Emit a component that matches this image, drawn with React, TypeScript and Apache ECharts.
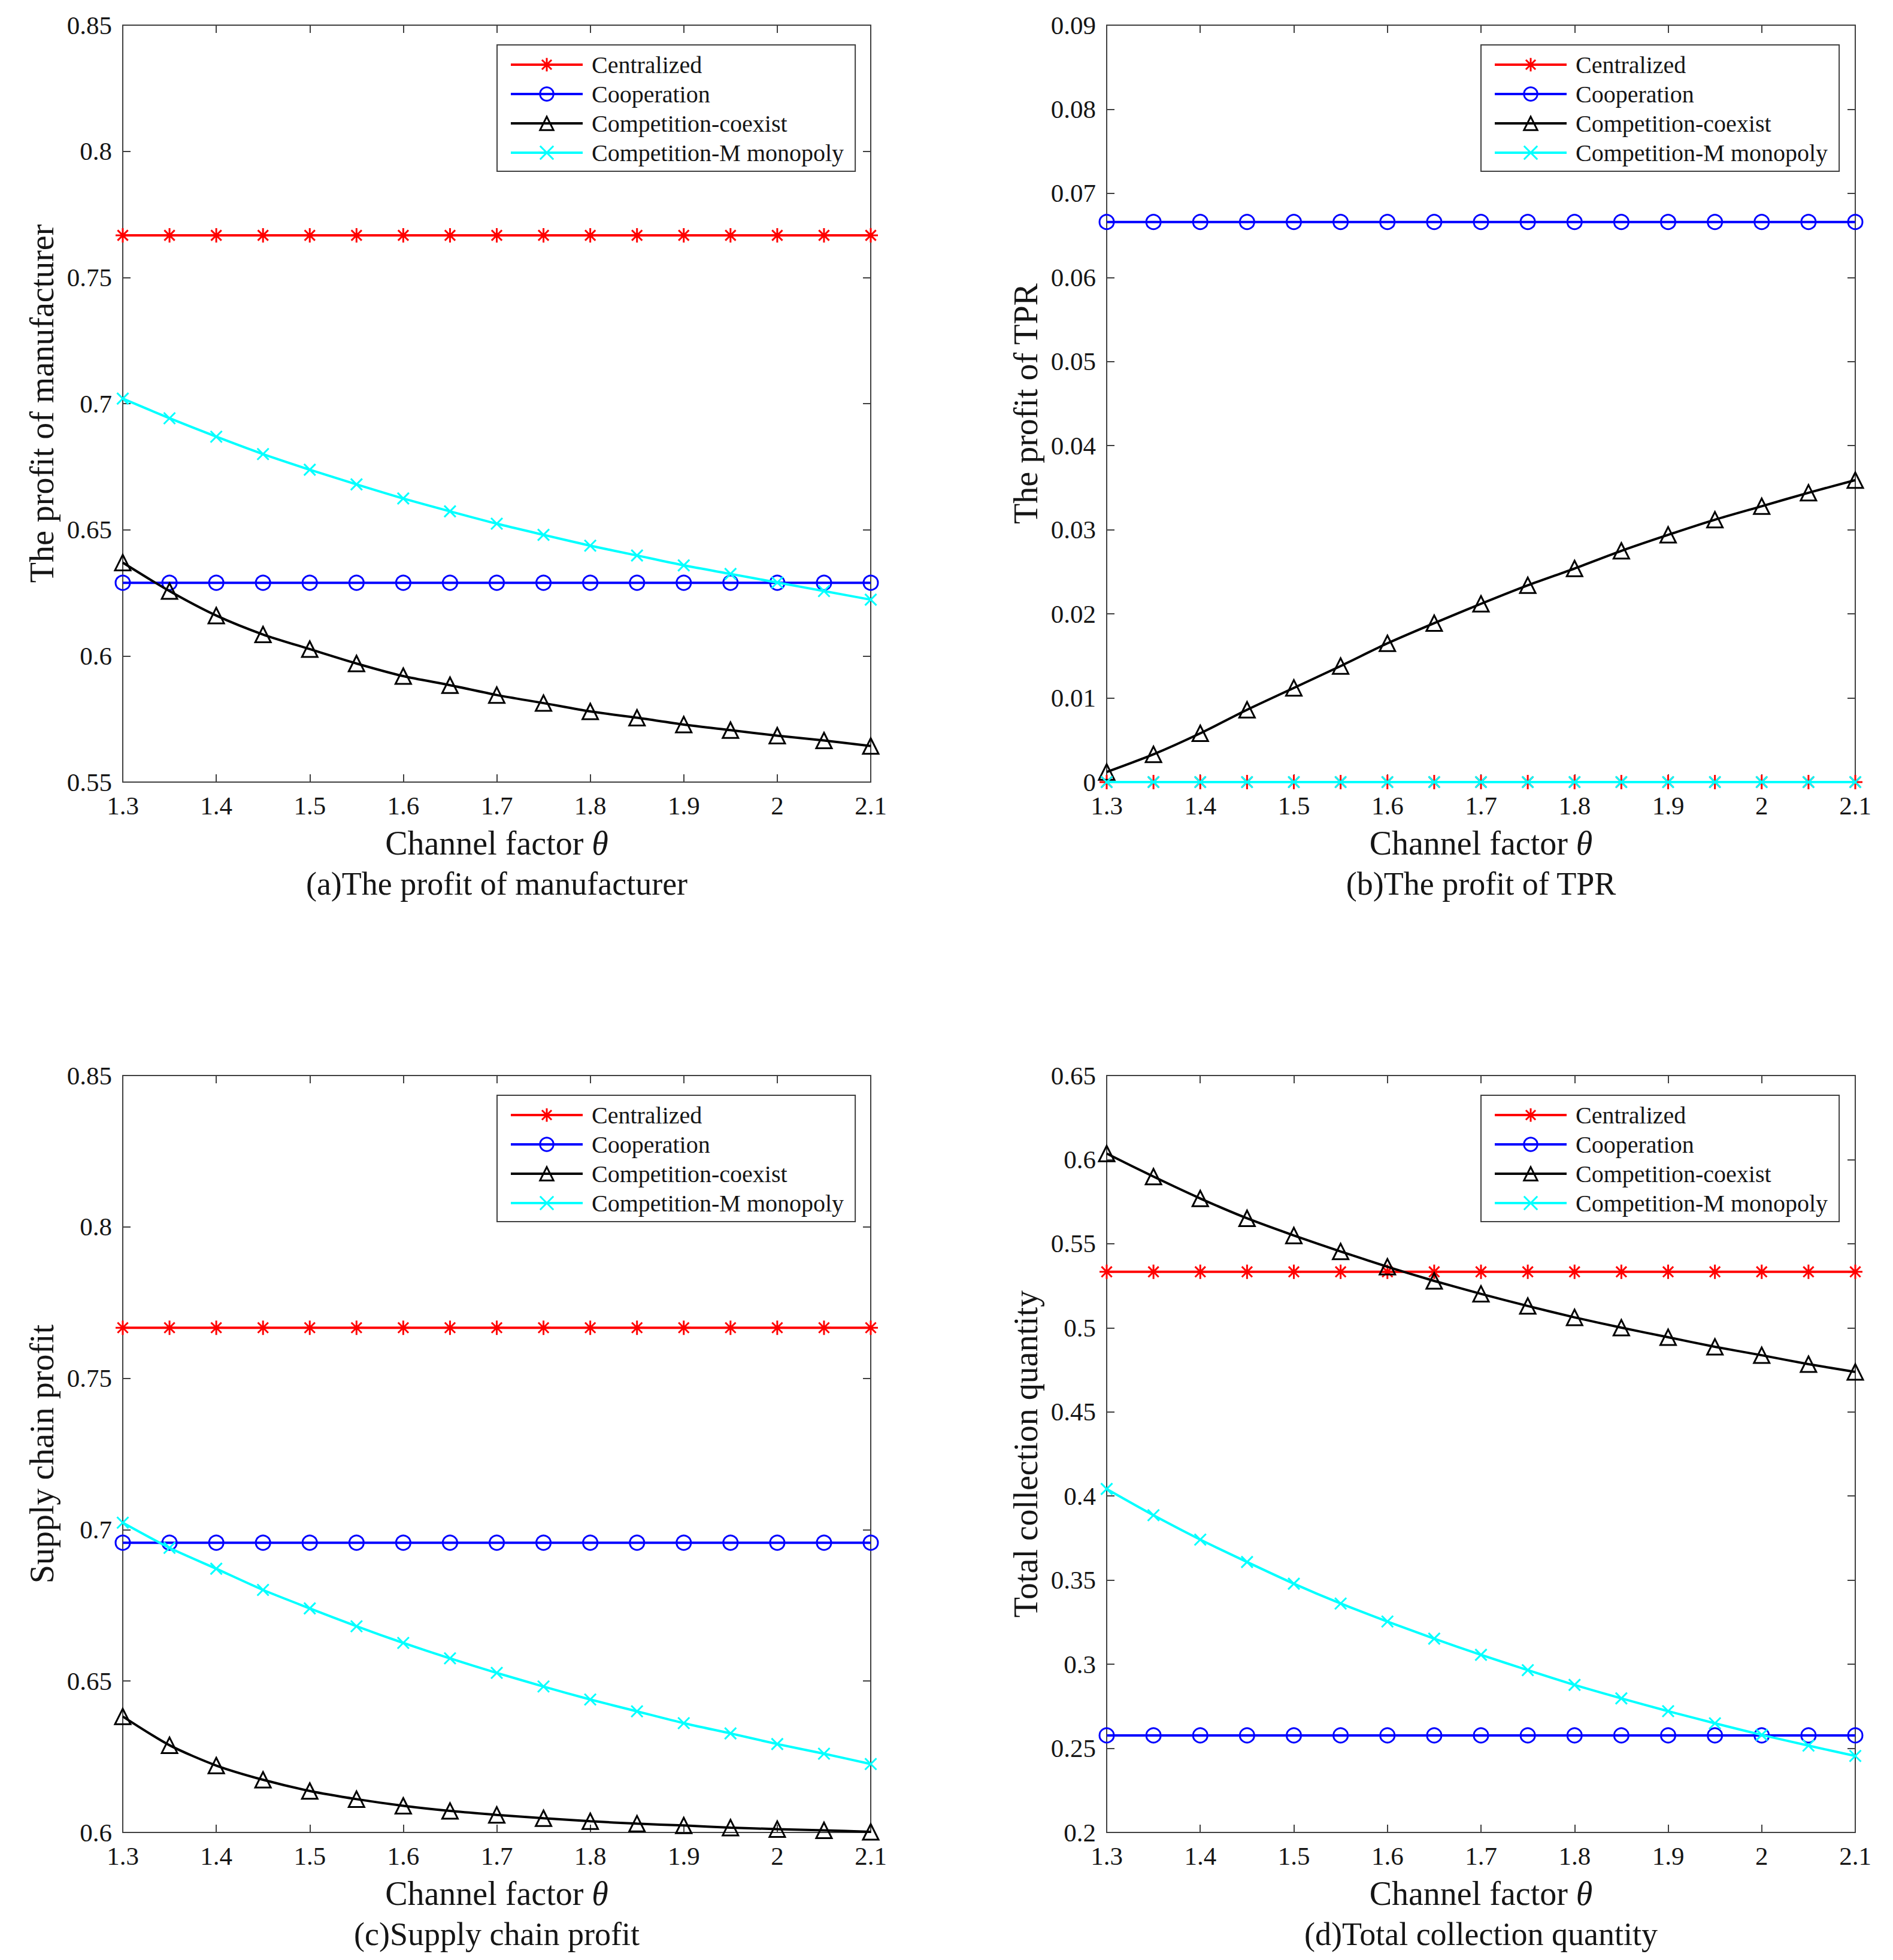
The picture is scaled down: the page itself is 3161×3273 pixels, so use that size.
import React, { useEffect, useRef } from "react";
import * as echarts from "echarts";

// ---------------- data ----------------
const THETA = [1.3, 1.35, 1.4, 1.45, 1.5, 1.55, 1.6, 1.65, 1.7, 1.75, 1.8, 1.85, 1.9, 1.95, 2.0, 2.05, 2.1];
const SERIES_NAMES = ["Centralized", "Cooperation", "Competition-coexist", "Competition-M monopoly"];

// (a) The profit of manufacturer
const A_CENTRALIZED = [0.7667, 0.7667, 0.7667, 0.7667, 0.7667, 0.7667, 0.7667, 0.7667, 0.7667, 0.7667, 0.7667, 0.7667, 0.7667, 0.7667, 0.7667, 0.7667, 0.7667];
const A_COOPERATION = [0.629, 0.629, 0.629, 0.629, 0.629, 0.629, 0.629, 0.629, 0.629, 0.629, 0.629, 0.629, 0.629, 0.629, 0.629, 0.629, 0.629];
const A_COEXIST = [0.637, 0.6257, 0.616, 0.6085, 0.6027, 0.597, 0.592, 0.5884, 0.5845, 0.5813, 0.578, 0.5755, 0.5728, 0.5706, 0.5684, 0.5665, 0.5643];
const A_MONOPOLY = [0.702, 0.6942, 0.6869, 0.68, 0.6738, 0.668, 0.6624, 0.6573, 0.6524, 0.648, 0.6437, 0.6398, 0.6359, 0.6325, 0.6291, 0.6257, 0.6223];

// (b) The profit of TPR
const B_CENTRALIZED = [0, 0, 0, 0, 0, 0, 0, 0, 0, 0, 0, 0, 0, 0, 0, 0, 0];
const B_COOPERATION = [0.0666, 0.0666, 0.0666, 0.0666, 0.0666, 0.0666, 0.0666, 0.0666, 0.0666, 0.0666, 0.0666, 0.0666, 0.0666, 0.0666, 0.0666, 0.0666, 0.0666];
const B_COEXIST = [0.0012, 0.0033, 0.0058, 0.0086, 0.0112, 0.0138, 0.0165, 0.0189, 0.0212, 0.0234, 0.0254, 0.0275, 0.0294, 0.0312, 0.0328, 0.0344, 0.0359];
const B_MONOPOLY = [0, 0, 0, 0, 0, 0, 0, 0, 0, 0, 0, 0, 0, 0, 0, 0, 0];

// (c) Supply chain profit
const C_CENTRALIZED = [0.7667, 0.7667, 0.7667, 0.7667, 0.7667, 0.7667, 0.7667, 0.7667, 0.7667, 0.7667, 0.7667, 0.7667, 0.7667, 0.7667, 0.7667, 0.7667, 0.7667];
const C_COOPERATION = [0.6957, 0.6957, 0.6957, 0.6957, 0.6957, 0.6957, 0.6957, 0.6957, 0.6957, 0.6957, 0.6957, 0.6957, 0.6957, 0.6957, 0.6957, 0.6957, 0.6957];
const C_COEXIST = [0.6383, 0.6288, 0.6221, 0.6174, 0.6137, 0.611, 0.6088, 0.6071, 0.6058, 0.6047, 0.6037, 0.6029, 0.6023, 0.6016, 0.6011, 0.6007, 0.6002];
const C_MONOPOLY = [0.7023, 0.694, 0.6871, 0.6801, 0.674, 0.6681, 0.6626, 0.6575, 0.6527, 0.6482, 0.6439, 0.64, 0.6361, 0.6327, 0.6292, 0.626, 0.6226];

// (d) Total collection quantity
const D_CENTRALIZED = [0.5333, 0.5333, 0.5333, 0.5333, 0.5333, 0.5333, 0.5333, 0.5333, 0.5333, 0.5333, 0.5333, 0.5333, 0.5333, 0.5333, 0.5333, 0.5333, 0.5333];
const D_COOPERATION = [0.2577, 0.2577, 0.2577, 0.2577, 0.2577, 0.2577, 0.2577, 0.2577, 0.2577, 0.2577, 0.2577, 0.2577, 0.2577, 0.2577, 0.2577, 0.2577, 0.2577];
const D_COEXIST = [0.6036, 0.5899, 0.5769, 0.5651, 0.5549, 0.5454, 0.5363, 0.5279, 0.5202, 0.513, 0.5062, 0.5001, 0.4944, 0.4887, 0.4837, 0.4784, 0.4738];
const D_MONOPOLY = [0.4042, 0.3886, 0.3741, 0.3608, 0.3479, 0.3361, 0.3254, 0.3152, 0.3056, 0.2965, 0.2877, 0.2797, 0.2721, 0.2649, 0.258, 0.2516, 0.2455];

const X_NAME = "Channel factor {i|θ}";
const Y_NAMES = ["The profit of manufacturer", "The profit of TPR", "Supply chain profit", "Total collection quantity"];
const CAPTIONS = ["(a)The profit of manufacturer", "(b)The profit of TPR", "(c)Supply chain profit", "(d)Total collection quantity"];
const Y_RANGES = [
  { min: 0.55, max: 0.85, interval: 0.05 },
  { min: 0, max: 0.09, interval: 0.01 },
  { min: 0.6, max: 0.85, interval: 0.05 },
  { min: 0.2, max: 0.65, interval: 0.05 },
];
const PANEL_DATA = [
  [A_CENTRALIZED, A_COOPERATION, A_COEXIST, A_MONOPOLY],
  [B_CENTRALIZED, B_COOPERATION, B_COEXIST, B_MONOPOLY],
  [C_CENTRALIZED, C_COOPERATION, C_COEXIST, C_MONOPOLY],
  [D_CENTRALIZED, D_COOPERATION, D_COEXIST, D_MONOPOLY],
];

// ---------------- layout / styles ----------------
const W = 3161;
const H = 3273;
const FONT = '"Liberation Serif", "Times New Roman", serif';
const GRIDS = [
  { left: 205, top: 42, width: 1249, height: 1264 },
  { left: 1848, top: 42, width: 1250, height: 1264 },
  { left: 205, top: 1796, width: 1249, height: 1264 },
  { left: 1848, top: 1796, width: 1250, height: 1264 },
];
const LEGEND_POS = [
  { left: 830, top: 75 },
  { left: 2473, top: 75 },
  { left: 830, top: 1829 },
  { left: 2473, top: 1829 },
];
const AXIS_COLOR = "#404040";
const TEXT_COLOR = "#151515";

const STAR = "path://M0,-10L0,10M-10,0L10,0M-7.2,-7.2L7.2,7.2M-7.2,7.2L7.2,-7.2";
const CROSS = "path://M-10,-10L10,10M-10,10L10,-10";
const SERIES_STYLE = [
  { color: "#ff0000", symbol: STAR, size: 24 },
  { color: "#0000ff", symbol: "circle", size: 24 },
  { color: "#000000", symbol: "triangle", size: 26 },
  { color: "#00ffff", symbol: CROSS, size: 19 },
];

const fmt = (v: number) => String(parseFloat(Number(v).toFixed(3)));

function buildOption() {
  const xAxis: any[] = [];
  const yAxis: any[] = [];
  const series: any[] = [];
  const legend: any[] = [];
  const graphic: any[] = [];

  GRIDS.forEach((g, i) => {
    const common = {
      gridIndex: i,
      axisLine: { show: true, onZero: false, lineStyle: { color: AXIS_COLOR, width: 2 } },
      axisTick: { show: true, inside: true, length: 13, lineStyle: { color: AXIS_COLOR, width: 2 } },
      splitLine: { show: false },
    };
    xAxis.push({
      ...common,
      type: "value",
      position: "bottom",
      min: 1.3,
      max: 2.1,
      interval: 0.1,
      name: X_NAME,
      nameLocation: "middle",
      nameGap: 74,
      nameTextStyle: {
        fontFamily: FONT,
        fontSize: 56,
        color: TEXT_COLOR,
        rich: { i: { fontFamily: FONT, fontSize: 56, fontStyle: "italic", color: TEXT_COLOR } },
      },
      axisLabel: { margin: 18, fontFamily: FONT, fontSize: 43, color: TEXT_COLOR, formatter: fmt },
    });
    yAxis.push({
      ...common,
      type: "value",
      position: "left",
      ...Y_RANGES[i],
      name: Y_NAMES[i],
      nameLocation: "middle",
      nameGap: 107,
      nameTextStyle: { fontFamily: FONT, fontSize: 56, color: TEXT_COLOR },
      axisLabel: { margin: 18, fontFamily: FONT, fontSize: 43, color: TEXT_COLOR, formatter: fmt },
    });

    SERIES_NAMES.forEach((name, k) => {
      const st = SERIES_STYLE[k];
      series.push({
        type: "line",
        name,
        xAxisIndex: i,
        yAxisIndex: i,
        data: THETA.map((x, j) => [x, PANEL_DATA[i][k][j]]),
        smooth: 0.25,
        symbol: st.symbol,
        symbolSize: st.size,
        symbolKeepAspect: true,
        showAllSymbol: true,
        lineStyle: { color: st.color, width: 4 },
        itemStyle: { color: "none", borderColor: st.color, borderWidth: 3 },
        emphasis: { disabled: true },
        silent: true,
        z: 2 + k,
        clip: false,
      });
    });

    legend.push({
      ...LEGEND_POS[i],
      orient: "vertical",
      data: SERIES_NAMES,
      itemWidth: 120,
      itemHeight: 28,
      itemGap: 9,
      padding: [13, 19, 11, 21],
      backgroundColor: "#ffffff",
      borderColor: AXIS_COLOR,
      borderWidth: 2,
      borderRadius: 0,
      selectedMode: false,
      itemStyle: { borderWidth: 3 },
      lineStyle: { width: 4 },
      textStyle: { fontFamily: FONT, fontSize: 40, color: TEXT_COLOR, lineHeight: 40, padding: [0, 0, 0, 10] },
      z: 10,
    });

    graphic.push({
      type: "text",
      x: g.left + g.width / 2,
      y: g.top + g.height + 170,
      style: {
        text: CAPTIONS[i],
        fontFamily: FONT,
        fontSize: 54,
        fill: TEXT_COLOR,
        align: "center",
        verticalAlign: "middle",
        textAlign: "center",
        textVerticalAlign: "middle",
      },
    });
  });

  // mirrored top / right axes (box with inward ticks)
  GRIDS.forEach((g, i) => {
    const common = {
      gridIndex: i,
      axisLine: { show: true, onZero: false, lineStyle: { color: AXIS_COLOR, width: 2 } },
      axisTick: { show: true, inside: true, length: 13, lineStyle: { color: AXIS_COLOR, width: 2 } },
      axisLabel: { show: false },
      splitLine: { show: false },
    };
    xAxis.push({ ...common, type: "value", position: "top", min: 1.3, max: 2.1, interval: 0.1 });
    yAxis.push({ ...common, type: "value", position: "right", ...Y_RANGES[i] });
  });

  return {
    animation: false,
    backgroundColor: "#ffffff",
    grid: GRIDS.map((g) => ({ ...g, containLabel: false })),
    xAxis,
    yAxis,
    legend,
    series,
    graphic,
  };
}

export default function App() {
  const ref = useRef<HTMLDivElement>(null);
  useEffect(() => {
    if (!ref.current) return;
    const chart = echarts.init(ref.current, undefined, { renderer: "svg" });
    chart.setOption(buildOption() as any);
    return () => chart.dispose();
  }, []);
  return (
    <div
      ref={ref}
      style={{ position: "absolute", left: 0, top: 0, width: W, height: H, background: "#fff" }}
    />
  );
}
